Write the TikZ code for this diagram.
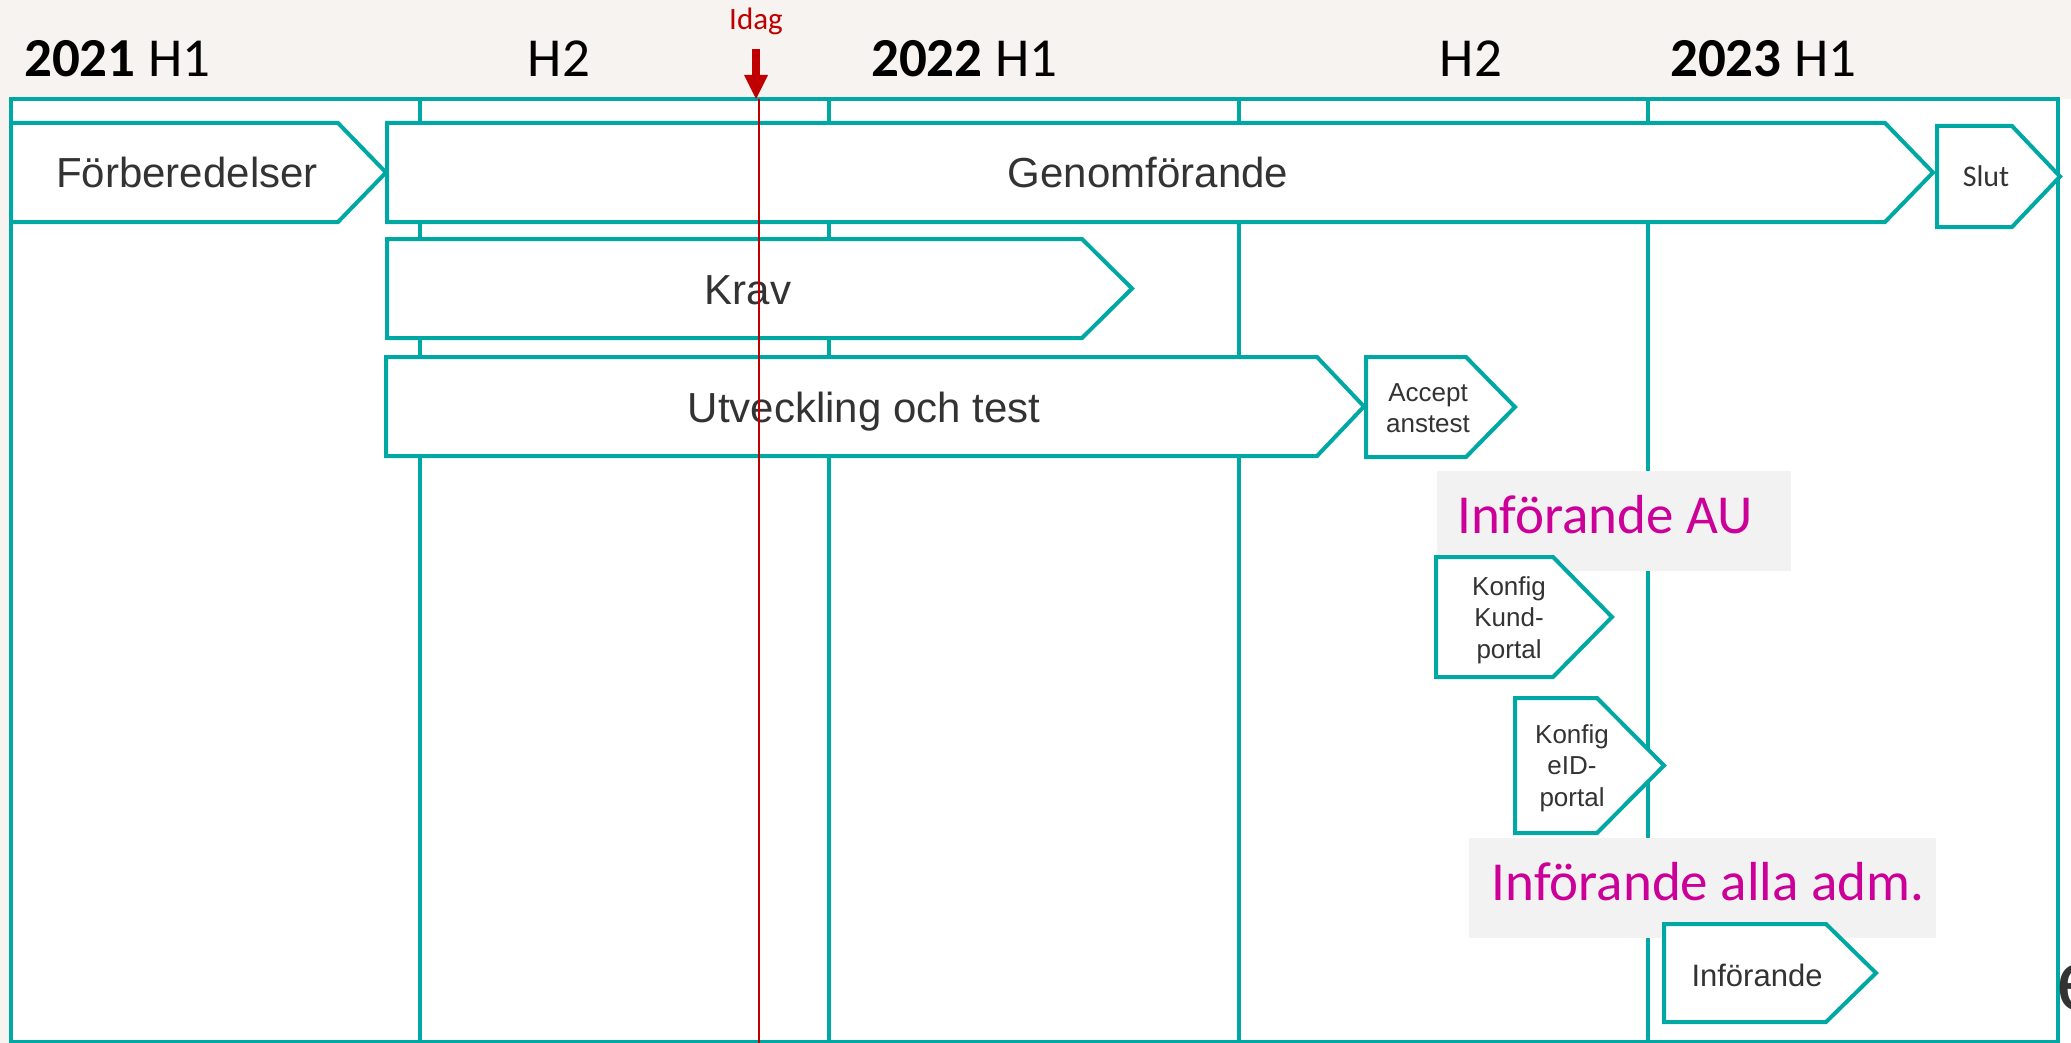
\documentclass[tikz,border=0pt]{standalone}
\usepackage{fontspec}
\setmainfont{Liberation Sans}
\newfontfamily\calfont{Carlito}
\definecolor{tealc}{RGB}{0,168,164}
\definecolor{txtgray}{RGB}{51,51,51}
\definecolor{magc}{RGB}{204,0,153}
\definecolor{redc}{RGB}{192,0,0}
\definecolor{bgc}{RGB}{246,243,240}
\definecolor{labgray}{RGB}{242,242,242}
\newcommand{\mychev}[5]{\draw[tbox] (#1,#2) -- (#3,#2) -- (#4,{(#2+#5)/2}) -- (#3,#5) -- (#1,#5) -- cycle;}
\begin{document}
\begin{tikzpicture}[x=1pt,y=-1pt,
  tbox/.style={draw=tealc, line width=4pt, fill=white},
  gridline/.style={draw=tealc, line width=3.5pt},
  btxt/.style={font=\fontsize{42}{50}\selectfont, text=txtgray, inner sep=0pt, anchor=base},
  stxt/.style={font=\fontsize{26}{31.5}\selectfont, text=txtgray, align=center, inner sep=0pt},
  hdr/.style={font=\calfont\fontsize{55}{66}\selectfont, text=black, inner sep=0pt, anchor=base},
  mag/.style={font=\calfont\fontsize{55}{66}\selectfont, text=magc, inner sep=0pt, anchor=base},
  labbox/.style={fill=labgray, draw=none}]
\useasboundingbox (0,0) rectangle (2071,1043);
% background
\fill[bgc] (0,0) rectangle (2071,1043);
\fill[white] (11,99) rectangle (2071,1043);
% grid
\draw[gridline] (11,99) -- (11,1043);
\draw[gridline] (420,99) -- (420,1043);
\draw[gridline] (829,99) -- (829,1043);
\draw[gridline] (1239,99) -- (1239,1043);
\draw[gridline] (1648,99) -- (1648,1043);
\draw[gridline] (2058,97) -- (2058,1043);
\draw[gridline] (9,99) -- (2060,99);
\draw[gridline] (11,1042) -- (2058,1042);
% headers
\node[hdr, anchor=base west] (h2021) at (24,77) {\textbf{2021} H1};
\node[hdr] (h2a) at (559,77) {H2};
\node[hdr, anchor=base west] (h2022) at (871,77) {\textbf{2022} H1};
\node[hdr] (h2b) at (1471,77) {H2};
\node[hdr, anchor=base west] (h2023) at (1670,77) {\textbf{2023} H1};
% chevrons
\mychev{11}{123}{338}{386}{222}
\node[btxt] (forb) at (187,188) {Förberedelser};
\mychev{387}{123}{1885}{1933}{222}
\node[btxt] (genom) at (1148,188) {Genomförande};
\mychev{1937}{126}{2012}{2060}{227}
\node[font=\calfont\fontsize{30}{36}\selectfont, text=txtgray, inner sep=0pt, anchor=base] (slut) at (1986,187) {Slut};
\mychev{387}{239}{1082}{1132}{338}
\node[btxt] (krav) at (748,304) {Krav};
\mychev{386}{357}{1317}{1364}{456}
\node[btxt] (utv) at (864,422) {Utveckling och test};
\mychev{1366}{357}{1466}{1515}{457}
\node[stxt] (acc) at (1428,408) {Accept\\anstest};
% Införande AU
\fill[labbox] (1437,471) rectangle (1791,571);
\node[mag] (infau) at (1605,533) {Införande AU};
\mychev{1436}{557}{1553}{1612}{677}
\node[stxt] (kund) at (1509,620) {Konfig\\Kund-\\portal};
\mychev{1515}{698}{1597}{1664}{833}
\node[stxt] (eid) at (1572,768) {Konfig\\eID-\\portal};
% Införande alla adm.
\fill[labbox] (1469,838) rectangle (1936,938);
\node[mag] (infalla) at (1708,900) {Införande alla adm.};
\mychev{1664}{924}{1826}{1876}{1022}
\node[font=\fontsize{31}{37}\selectfont, text=txtgray, inner sep=0pt, anchor=base] (inf) at (1757,986) {Införande};
\node[font=\fontsize{86}{100}\selectfont, text=txtgray, inner sep=0pt, anchor=base west] (epart) at (2056,1010) {e};
% today marker
\node[font=\calfont\fontsize{31}{37}\selectfont, text=redc, inner sep=0pt, anchor=base] (idag) at (756,30) {Idag};
\coordinate (tip) at (756,99);
\fill[redc] (752,49) rectangle (760,76);
\fill[redc] (744,75) -- (768,75) -- (tip) -- cycle;
\draw[redc, line width=2pt] (759,99) -- (759,1043);
\end{tikzpicture}
\end{document}
